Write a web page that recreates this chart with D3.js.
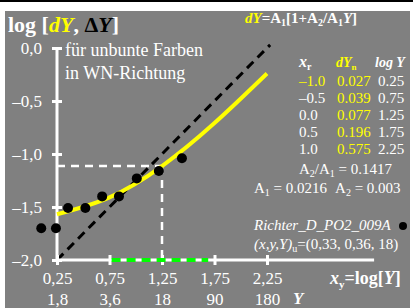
<!DOCTYPE html>
<html>
<head>
<meta charset="utf-8">
<script src="https://cdn.jsdelivr.net/npm/d3@7"></script>
<style>
body { margin:0; background:#fff; }
text { font-family:"Liberation Serif","Times New Roman",serif; }
</style>
</head>
<body>
<svg id="chart" width="413" height="308"></svg>
<script>
// axis ticks (x = log Y, y = log dY)
var xTicks = [0.25, 0.75, 1.25, 1.75, 2.25];
var xTickLabels = ["0,25", "0,75", "1,25", "1,75", "2,25"];
var xTickLabelsY = ["1,8", "3,6", "18", "90", "180"];
var yTicks = [0, -0.5, -1.0, -1.5, -2.0];
var yTickLabels = ["0,0", "–0,5", "–1,0", "–1,5", "–2,0"];

// table at the right
var tabXr = ["–1.0", "–0.5", "0.0", "0.5", "1.0"];
var tabDYn = ["0.027", "0.039", "0.077", "0.196", "0.575"];
var tabLogY = ["0.25", "0.75", "1.25", "1.75", "2.25"];

// yellow curve: log Y vs dY from the table
var curveLogY = [0.25, 0.75, 1.25, 1.75, 2.25];
var curveDY = [0.027, 0.039, 0.077, 0.196, 0.575];

// measured points (log Y, log dY)
var ptLogY = [0.10, 0.24, 0.355, 0.52, 0.68, 0.84, 1.01, 1.22, 1.44];
var ptLogDY = [-1.70, -1.70, -1.51, -1.51, -1.40, -1.40, -1.23, -1.16, -1.04];

// dashed reference line and marks
var refLogY = [0.25, 2.28];
var refLogDY = [-2.0, 0.03];
var markLogY = 1.25;
var markLogDY = Math.log10(0.077);
var greenRange = [0.77, 1.69];
var axisEnd = 3.27;

var svg = d3.select("#chart");

// frame
svg.append("rect").attr("x", 0).attr("y", 0).attr("width", 413).attr("height", 2).style("fill", "#000");
svg.append("rect").attr("x", 5).attr("y", 11).attr("width", 405).attr("height", 297).style("fill", "#808080");

var x = d3.scaleLinear().domain([0.25, 2.25]).range([57, 267]);
var y = d3.scaleLinear().domain([0, -2]).range([48, 260]);

// white dashed marks
svg.append("line")
  .attr("x1", x(0.25)).attr("x2", x(markLogY))
  .attr("y1", y(markLogDY)).attr("y2", y(markLogDY))
  .style("stroke", "#fff").style("stroke-width", 2.5).style("stroke-dasharray", "8,6");
svg.append("line")
  .attr("x1", x(markLogY)).attr("x2", x(markLogY))
  .attr("y1", y(markLogDY)).attr("y2", y(-2))
  .style("stroke", "#fff").style("stroke-width", 2.5).style("stroke-dasharray", "8,6");

// black dashed reference line
svg.append("line")
  .attr("x1", x(refLogY[0])).attr("y1", y(refLogDY[0]))
  .attr("x2", x(refLogY[1])).attr("y2", y(refLogDY[1]))
  .style("stroke", "#000").style("stroke-width", 3).style("stroke-dasharray", "9,6");

// x axis
var xAxis = svg.append("g")
  .attr("transform", "translate(0," + y(-2) + ")")
  .call(d3.axisBottom(x).tickValues(xTicks).tickSize(5).tickFormat((d, i) => xTickLabels[i]));
xAxis.select(".domain").remove();
xAxis.insert("line", ":first-child")
  .attr("x1", x(0.25)).attr("x2", x(axisEnd))
  .style("stroke", "#fff").style("stroke-width", 3);
xAxis.selectAll(".tick line").attr("y1", -5).attr("y2", 5)
  .style("stroke", "#fff").style("stroke-width", 3);
xAxis.selectAll(".tick text").attr("y", 12).attr("dy", "0.71em")
  .style("fill", "#fff").style("font-size", "17px").style("font-family", "Liberation Serif");
xAxis.selectAll(".tick").append("text")
  .attr("y", 33).attr("dy", "0.71em")
  .attr("text-anchor", "middle")
  .style("fill", "#fff").style("font-size", "17px").style("font-family", "Liberation Serif")
  .text((d, i) => xTickLabelsY[i]);

// green dashed part on the x axis
svg.append("line")
  .attr("x1", x(greenRange[0])).attr("x2", x(greenRange[1]))
  .attr("y1", y(-2)).attr("y2", y(-2))
  .style("stroke", "#00ff00").style("stroke-width", 4).style("stroke-dasharray", "9,6");

// y axis
var yAxis = svg.append("g")
  .attr("transform", "translate(" + x(0.25) + ",0)")
  .call(d3.axisLeft(y).tickValues(yTicks).tickSize(5).tickFormat((d, i) => yTickLabels[i]));
yAxis.select(".domain").remove();
yAxis.insert("line", ":first-child")
  .attr("y1", y(0)).attr("y2", y(-2))
  .style("stroke", "#fff").style("stroke-width", 3);
yAxis.selectAll(".tick line").attr("x1", -5).attr("x2", 5)
  .style("stroke", "#fff").style("stroke-width", 3);
yAxis.selectAll(".tick text").attr("x", -15)
  .style("fill", "#fff").style("font-size", "17px").style("font-family", "Liberation Serif");

// yellow curve
var curvePts = curveLogY.map((v, i) => [v, Math.log10(curveDY[i])]);
svg.append("path")
  .datum(curvePts)
  .attr("d", d3.line().x(d => x(d[0])).y(d => y(d[1])).curve(d3.curveNatural))
  .style("fill", "none").style("stroke", "#ffff00").style("stroke-width", 4);

// measured points
svg.selectAll("circle.pt")
  .data(ptLogY)
  .enter()
  .append("circle")
  .attr("class", "pt")
  .attr("cx", d => x(d))
  .attr("cy", (d, i) => y(ptLogDY[i]))
  .attr("r", 5)
  .style("fill", "#000");

// title
var title = svg.append("text").attr("x", 8).attr("y", 32)
  .style("font-size", "22px").style("font-weight", "bold").style("fill", "#fff");
title.append("tspan").text("log [");
title.append("tspan").style("fill", "#ffff00").style("font-style", "italic").text("dY");
title.append("tspan").text(", ");
title.append("tspan").style("fill", "#000").text("Δ");
title.append("tspan").style("fill", "#000").style("font-style", "italic").text("Y");
title.append("tspan").text("]");

// formula
var formula = svg.append("text").attr("x", 245).attr("y", 23)
  .style("font-size", "15px").style("font-weight", "bold").style("fill", "#fff");
formula.append("tspan").style("fill", "#ffff00").style("font-style", "italic").text("dY");
formula.append("tspan").text("=A");
formula.append("tspan").attr("dy", 3).style("font-size", "10px").text("1");
formula.append("tspan").attr("dy", -3).text("[1+A");
formula.append("tspan").attr("dy", 3).style("font-size", "10px").text("2");
formula.append("tspan").attr("dy", -3).text("/A");
formula.append("tspan").attr("dy", 3).style("font-size", "10px").text("1");
formula.append("tspan").attr("dy", -3).style("font-style", "italic").text("Y");
formula.append("tspan").text("]");

// annotation
svg.append("text").attr("x", 65).attr("y", 56).style("font-size", "18px").style("fill", "#fff").text("für unbunte Farben");
svg.append("text").attr("x", 65).attr("y", 79).style("font-size", "18px").style("fill", "#fff").text("in WN-Richtung");

// table header
var hx = svg.append("text").attr("x", 299).attr("y", 67)
  .style("font-size", "16px").style("font-weight", "bold").style("font-style", "italic").style("fill", "#fff");
hx.append("tspan").text("x");
hx.append("tspan").attr("dy", 3).style("font-size", "10px").style("font-style", "normal").text("r");
var hd = svg.append("text").attr("x", 336).attr("y", 67)
  .style("font-size", "14px").style("font-weight", "bold").style("font-style", "italic").style("fill", "#ffff00");
hd.append("tspan").text("dY");
hd.append("tspan").attr("dy", 3).style("font-size", "9px").style("font-style", "normal").text("n");
svg.append("text").attr("x", 375).attr("y", 67)
  .style("font-size", "14px").style("font-weight", "bold").style("font-style", "italic").style("fill", "#fff")
  .text("log Y");

var rowY = d3.scaleLinear().domain([0, 4]).range([86, 154]);
var rows = svg.selectAll("g.row").data(tabXr).enter().append("g").attr("class", "row")
  .attr("transform", (d, i) => "translate(0," + rowY(i) + ")")
  .style("font-size", "15px");
rows.append("text").attr("x", 299).style("fill", (d, i) => i === 0 ? "#ffff00" : "#fff").text(d => d);
rows.append("text").attr("x", 337).style("fill", "#ffff00").text((d, i) => tabDYn[i]);
rows.append("text").attr("x", 378).style("fill", "#fff").text((d, i) => tabLogY[i]);

// constants
var c1 = svg.append("text").attr("x", 299).attr("y", 174).style("font-size", "15px").style("fill", "#fff");
c1.append("tspan").text("A");
c1.append("tspan").attr("dy", 3).style("font-size", "10px").text("2");
c1.append("tspan").attr("dy", -3).text("/A");
c1.append("tspan").attr("dy", 3).style("font-size", "10px").text("1");
c1.append("tspan").attr("dy", -3).text(" = 0.1417");
var c2 = svg.append("text").attr("x", 254).attr("y", 193).style("font-size", "15px").style("fill", "#fff");
c2.append("tspan").text("A");
c2.append("tspan").attr("dy", 3).style("font-size", "10px").text("1");
c2.append("tspan").attr("dy", -3).text(" = 0.0216");
c2.append("tspan").attr("dx", 8).text("A");
c2.append("tspan").attr("dy", 3).style("font-size", "10px").text("2");
c2.append("tspan").attr("dy", -3).text(" = 0.003");

// source
svg.append("text").attr("x", 254).attr("y", 230)
  .style("font-size", "15px").style("font-style", "italic").style("fill", "#fff")
  .text("Richter_D_PO2_009A");
svg.append("circle").attr("cx", 403).attr("cy", 226).attr("r", 4).style("fill", "#000");
var src = svg.append("text").attr("x", 254).attr("y", 249).style("font-size", "15px").style("fill", "#fff");
src.append("tspan").style("font-style", "italic").text("(x,y,Y)");
src.append("tspan").attr("dy", 3).style("font-size", "10px").text("u");
src.append("tspan").attr("dy", -3).text("=(0,33, 0,36, 18)");

// x axis title
var xt = svg.append("text").attr("x", 330).attr("y", 284)
  .style("font-size", "18px").style("font-weight", "bold").style("fill", "#fff");
xt.append("tspan").style("font-style", "italic").text("x");
xt.append("tspan").attr("dy", 4).style("font-size", "11px").text("y");
xt.append("tspan").attr("dy", -4).text("=log[");
xt.append("tspan").style("font-style", "italic").text("Y");
xt.append("tspan").text("]");
svg.append("text").attr("x", 293).attr("y", 304)
  .style("font-size", "17px").style("font-weight", "bold").style("font-style", "italic").style("fill", "#fff")
  .text("Y");
</script>
</body>
</html>
